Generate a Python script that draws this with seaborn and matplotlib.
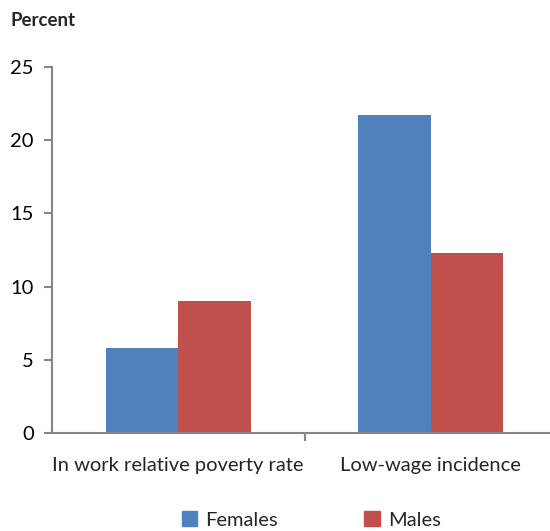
import numpy as np
import pandas as pd
import matplotlib
matplotlib.use("Agg")
import matplotlib.pyplot as plt
import seaborn as sns

categories = ["In work relative poverty rate", "Low-wage incidence"]
females = [5.8, 21.7]
males = [9.0, 12.3]
series = ["Females", "Males"]
colors = ["#4F81BD", "#C0504D"]

df = pd.DataFrame({
    "category": categories * 2,
    "value": females + males,
    "sex": ["Females"] * 2 + ["Males"] * 2,
})

sns.set_style("white")
plt.rcParams["font.family"] = ["Lato", "DejaVu Sans"]

fig = plt.figure(figsize=(5.5, 5.31), dpi=100)
ax = fig.add_axes([52 / 550, 98 / 531, 505 / 550, 366 / 531])

sns.barplot(data=df, x="category", y="value", hue="sex", hue_order=series,
            palette=colors, width=0.575, gap=0, saturation=1, ax=ax,
            edgecolor="none", legend=False)

ax.set_xlim(-0.5, 1.5)
ax.set_ylim(0, 25)
ax.set_yticks([0, 5, 10, 15, 20, 25])
ax.set_xlabel("")
ax.set_ylabel("")

gray = "#868686"
for side in ["top", "right"]:
    ax.spines[side].set_visible(False)
for side in ["left", "bottom"]:
    ax.spines[side].set_color(gray)
    ax.spines[side].set_linewidth(1.5)

ax.tick_params(axis="y", direction="out", length=6, width=1.5, color=gray,
               labelsize=14.5, labelcolor="black", pad=7, left=True)
ax.set_xticks([0, 1])
ax.set_xticklabels(categories)
ax.tick_params(axis="x", which="major", length=0, labelsize=14.5, pad=17)
ax.set_xticks([0.5, 1.5], minor=True)
ax.tick_params(axis="x", which="minor", direction="out", length=6, width=1.5,
               color=gray, bottom=True)

fig.text(10 / 550, 1 - 20 / 531, "Percent", fontsize=13.5, fontweight="bold",
         va="center", ha="left")

handles = [plt.Rectangle((0, 0), 1, 1, color=c) for c in colors]
fig.legend(handles, series, loc="center", bbox_to_anchor=(0.566, 1 - 520 / 531),
           ncol=2, frameon=False, fontsize=14.5, handlelength=0.75,
           handleheight=0.75, handletextpad=0.4, columnspacing=4.3)

fig.savefig("out.png", dpi=100)
